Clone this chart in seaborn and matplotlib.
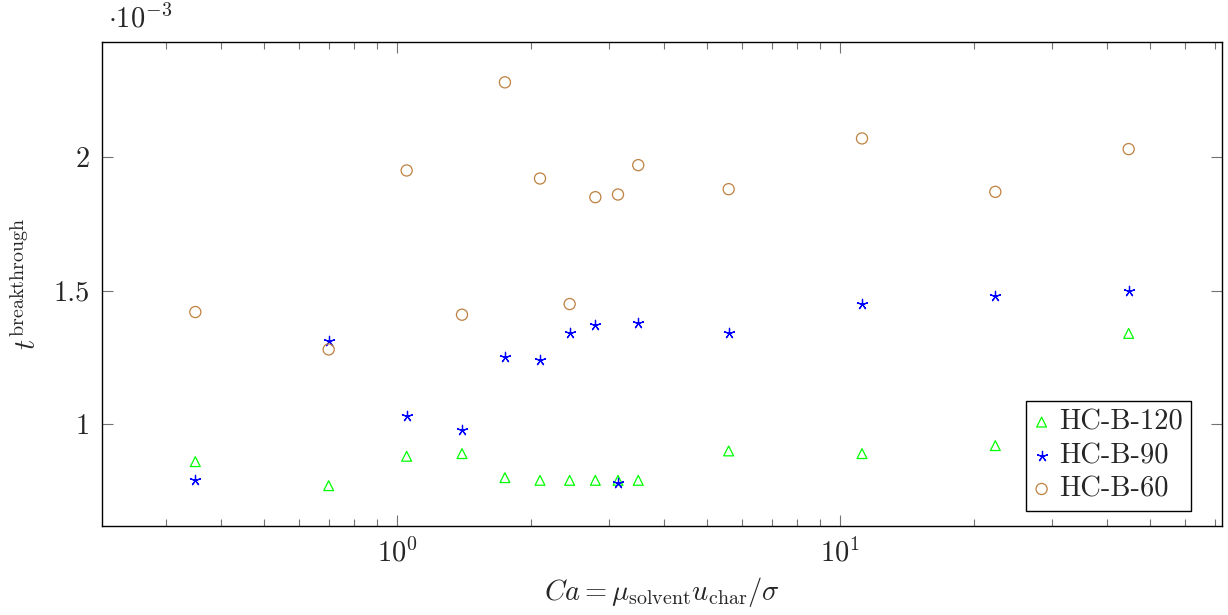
import matplotlib
matplotlib.use("Agg")
import matplotlib.pyplot as plt
import matplotlib.ticker as mticker
import numpy as np
import seaborn as sns

# Capillary number of each run
ca = [0.35, 0.7, 1.05, 1.4, 1.75, 2.1, 2.45, 2.8, 3.15, 3.5, 5.6, 11.2, 22.4, 44.8]

# breakthrough time, in units of 1e-3
t_hc_b_120 = [0.86, 0.77, 0.88, 0.89, 0.80, 0.79, 0.79, 0.79, 0.79, 0.79, 0.90, 0.89, 0.92, 1.34]
t_hc_b_90 = [0.79, 1.31, 1.03, 0.98, 1.25, 1.24, 1.34, 1.37, 0.78, 1.38, 1.34, 1.45, 1.48, 1.50]
t_hc_b_60 = [1.42, 1.28, 1.95, 1.41, 2.28, 1.92, 1.45, 1.85, 1.86, 1.97, 1.88, 2.07, 1.87, 2.03]

y_ticks = [1, 1.5, 2]

sns.set_style("ticks")
plt.rcParams["font.family"] = "serif"
plt.rcParams["font.serif"] = ["cmr10"]
plt.rcParams["mathtext.fontset"] = "cm"
plt.rcParams["axes.formatter.use_mathtext"] = True
plt.rcParams["font.size"] = 20.5

fig = plt.figure(figsize=(12.28, 6.15), dpi=100)
ax = fig.add_axes([102 / 1228, 1 - 526 / 615, 1120 / 1228, 484 / 615])

# open triangles
sns.scatterplot(x=ca, y=t_hc_b_120, ax=ax, marker="^", s=50, color="#00ff00",
                facecolor="none", edgecolor="#00ff00", linewidth=0.9, label="HC-B-120")
# 5-armed star
sns.scatterplot(x=ca, y=t_hc_b_90, ax=ax, marker=(5, 2, 0), s=55, color="#0000ff",
                edgecolor=None, linewidth=0.9, label="HC-B-90")
# open circles
sns.scatterplot(x=ca, y=t_hc_b_60, ax=ax, marker="o", s=64, color="#bf8040",
                facecolor="none", edgecolor="#bf8040", linewidth=0.9, label="HC-B-60")

ax.set_xscale("log")

# pgfplots style limits: 10% enlargement of the data range
lx = np.log10(ca)
span = lx.max() - lx.min()
ax.set_xlim(10 ** (lx.min() - 0.1 * span), 10 ** (lx.max() + 0.1 * span))
all_t = np.concatenate([t_hc_b_120, t_hc_b_90, t_hc_b_60])
tspan = all_t.max() - all_t.min()
ax.set_ylim(all_t.min() - 0.1 * tspan, all_t.max() + 0.1 * tspan)

ax.set_yticks(y_ticks)
ax.yaxis.set_major_formatter(mticker.FuncFormatter(lambda v, p: f"{v:g}"))
ax.yaxis.set_minor_locator(mticker.NullLocator())
ax.xaxis.set_minor_formatter(mticker.NullFormatter())

ax.tick_params(which="both", direction="in", top=True, right=True,
               color="0.45", width=0.8)
ax.tick_params(which="major", length=8, pad=9)
ax.tick_params(which="minor", length=5)
for sp in ax.spines.values():
    sp.set_color("black")
    sp.set_linewidth(1.0)

ax.set_xlabel(r"$Ca = \mu_{\mathrm{solvent}} u_{\mathrm{char}} / \sigma$", labelpad=5)
ax.set_ylabel(r"$t^{\mathrm{breakthrough}}$", labelpad=8)

fig.text(108 / 1228, 1 - 27 / 615, r"$\cdot 10^{-3}$", va="baseline", ha="left")

leg = ax.legend(loc="lower right", bbox_to_anchor=(0.9723, 0.031), borderaxespad=0,
                frameon=True, fancybox=False, edgecolor="black", framealpha=1,
                handlelength=0.5, handletextpad=0.35, labelspacing=0.25,
                borderpad=0.3, fontsize=20.5)
leg.get_frame().set_linewidth(1.0)

fig.savefig("out.png", dpi=100)
